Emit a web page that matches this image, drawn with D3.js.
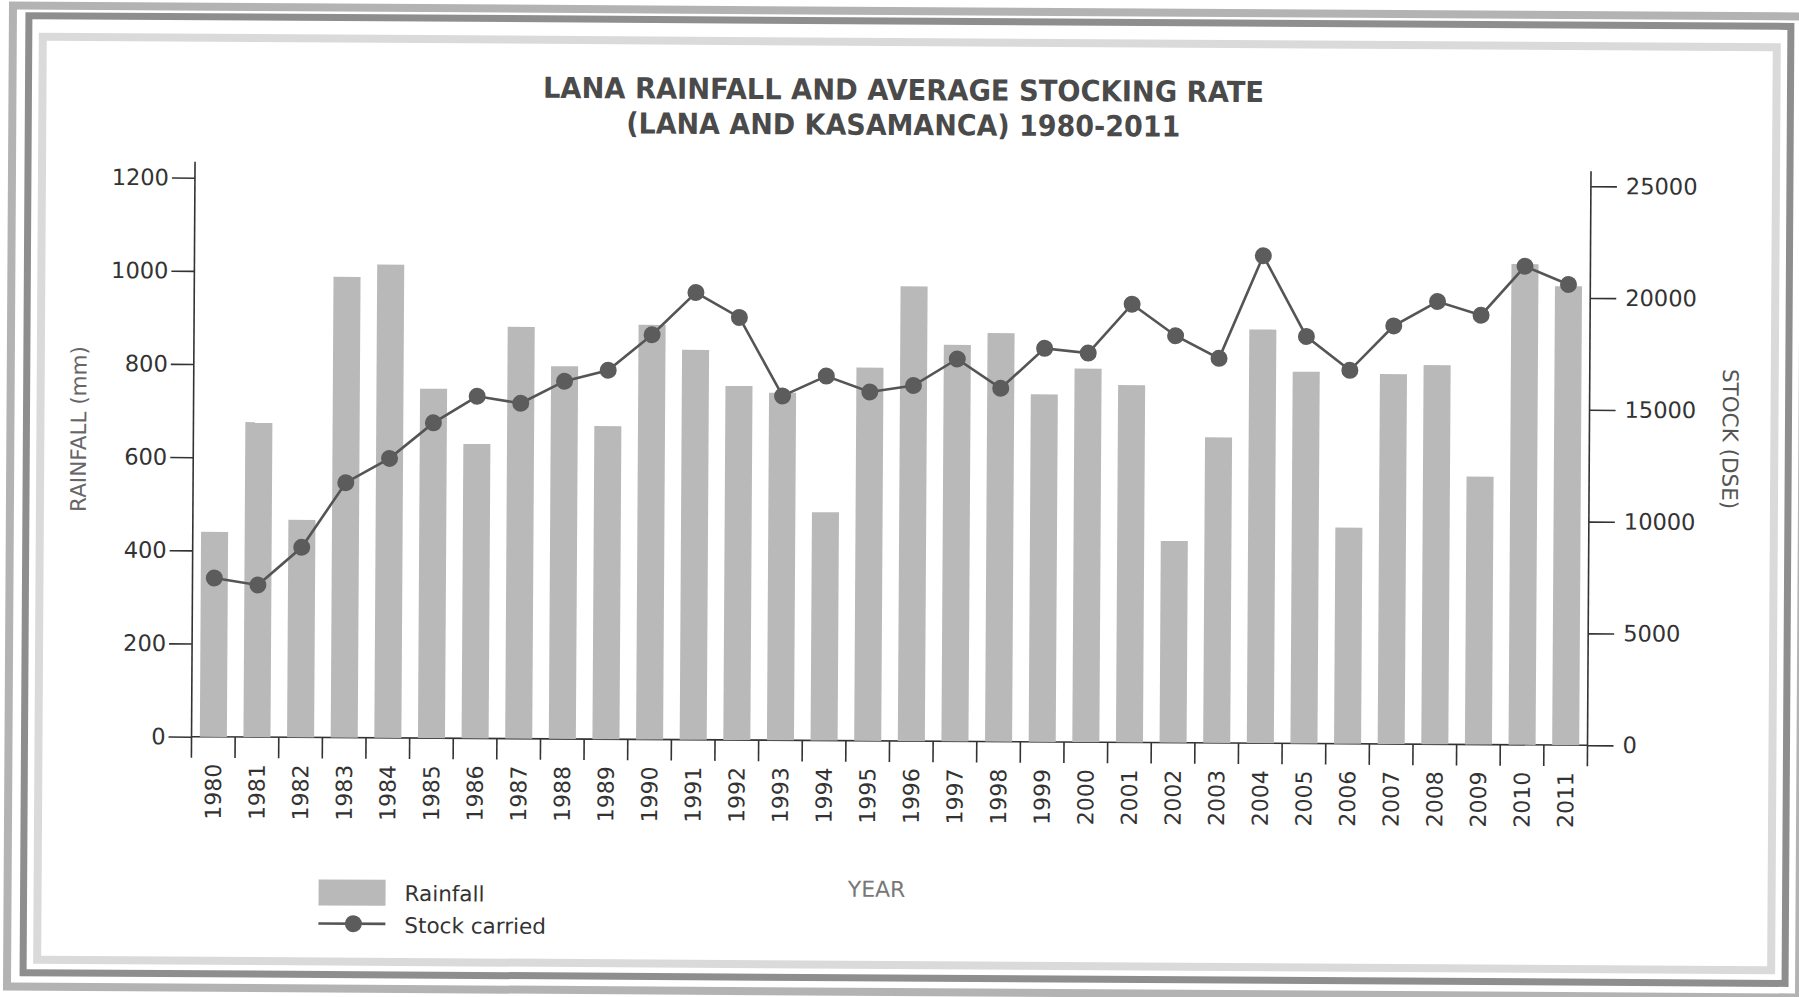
<!DOCTYPE html>
<html>
<head>
<meta charset="utf-8">
<script src="https://cdn.jsdelivr.net/npm/d3@7"></script>
<style>
  html, body { margin: 0; padding: 0; background: #fff; }
  svg { display: block; font-family: "DejaVu Sans", Verdana, sans-serif; }
</style>
</head>
<body>
<svg id="chart" width="1799" height="997"></svg>
<script>
// values
const years = d3.range(1980, 2012).map(String);
const rainfall = [440, 676, 467, 989, 1016, 750, 632, 884, 800, 672,
  890, 837, 760, 746, 490, 801, 976, 851, 877, 746,
  802, 767, 433, 656, 888, 798, 464, 794, 814, 575,
  1032, 985];
const stock = [7100, 6800, 8500, 11400, 12500, 14100, 15300, 15000, 16000, 16500,
  18100, 20000, 18900, 15400, 16300, 15600, 15900, 17100, 15800, 17600,
  17400, 19600, 18200, 17200, 21800, 18200, 16700, 18700, 19800, 19200,
  21400, 20600];
const rainTicks = [0, 200, 400, 600, 800, 1000, 1200];
const stockTicks = [0, 5000, 10000, 15000, 20000, 25000];
const titleLines = ["LANA RAINFALL AND AVERAGE STOCKING RATE", "(LANA AND KASAMANCA) 1980-2011"];

const svg = d3.select("#chart");
svg.append("rect").attr("width", 1799).attr("height", 997).attr("fill", "#fff");

// the scan is tilted a little, so everything sits in one rotated group
const root = svg.append("g").attr("transform", "rotate(0.35, 900, 498)");

// picture-frame border
root.append("rect").attr("x", 10).attr("y", 11).attr("width", 1792).attr("height", 981)
  .attr("fill", "none").attr("stroke", "#b3b3b3").attr("stroke-width", 8);
root.append("rect").attr("x", 26).attr("y", 21).attr("width", 1762).attr("height", 957)
  .attr("fill", "none").attr("stroke", "#8e8e8e").attr("stroke-width", 7);
root.append("rect").attr("x", 40).attr("y", 42).attr("width", 1734).attr("height", 923)
  .attr("fill", "none").attr("stroke", "#dadada").attr("stroke-width", 8);

const plotL = 193, plotR = 1589, plotT = 182, zeroY = 741;

const x = d3.scaleBand().domain(years).range([plotL, plotR]).paddingInner(0.38).paddingOuter(0.19);
const yRain = d3.scaleLinear().domain([0, 1200]).range([zeroY, plotT]);
const yStock = d3.scaleLinear().domain([0, 25000]).range([zeroY, plotT]);

// title
titleLines.forEach((t, i) => {
  root.append("text")
    .attr("x", 901).attr("y", i === 0 ? 100 : 135)
    .attr("text-anchor", "middle")
    .attr("font-size", 29).attr("font-weight", "bold")
    .attr("fill", "#4a4a4a")
    .attr("textLength", i === 0 ? 721 : 554)
    .attr("lengthAdjust", "spacingAndGlyphs")
    .text(t);
});

// x axis line + boundary ticks (drawn under the bars)
const axisCol = "#333";
root.append("line").attr("x1", plotL).attr("x2", plotR).attr("y1", zeroY).attr("y2", zeroY)
  .attr("stroke", axisCol).attr("stroke-width", 1.6);
const bounds = d3.range(1, years.length).map((k) => plotL + k * x.step());
root.append("g").selectAll("line").data(bounds).join("line")
  .attr("x1", (d) => d).attr("x2", (d) => d)
  .attr("y1", zeroY).attr("y2", zeroY + 21)
  .attr("stroke", axisCol).attr("stroke-width", 1.6);

// bars
root.append("g").selectAll("rect").data(years).join("rect")
  .attr("x", (d) => x(d))
  .attr("width", x.bandwidth())
  .attr("y", (d, i) => yRain(rainfall[i]))
  .attr("height", (d, i) => zeroY - yRain(rainfall[i]))
  .attr("fill", "#b9b9b9");

// left axis
const gl = root.append("g").attr("transform", `translate(${plotL},0)`)
  .call(d3.axisLeft(yRain).tickValues(rainTicks).tickSize(23).tickSizeOuter(0).tickPadding(3)
    .tickFormat(d3.format("d")));
gl.select(".domain").remove();
gl.selectAll(".tick line").attr("stroke", axisCol).attr("stroke-width", 1.6);
gl.selectAll(".tick text").attr("font-size", 22.5).attr("fill", "#333")
  .attr("font-family", "DejaVu Sans, sans-serif");
gl.append("line").attr("y1", 166).attr("y2", zeroY + 21).attr("stroke", axisCol).attr("stroke-width", 1.6);

// right axis
const gr = root.append("g").attr("transform", `translate(${plotR},0)`)
  .call(d3.axisRight(yStock).tickValues(stockTicks).tickSize(26).tickSizeOuter(0).tickPadding(9)
    .tickFormat(d3.format("d")));
gr.select(".domain").remove();
gr.selectAll(".tick line").attr("stroke", axisCol).attr("stroke-width", 1.6);
gr.selectAll(".tick text").attr("font-size", 22.5).attr("fill", "#333")
  .attr("font-family", "DejaVu Sans, sans-serif");
gr.append("line").attr("y1", 167).attr("y2", zeroY + 21).attr("stroke", axisCol).attr("stroke-width", 1.6);

// year labels
root.append("g").selectAll("text").data(years).join("text")
  .attr("transform", (d) => `translate(${x(d) + x.bandwidth() / 2},768) rotate(-90)`)
  .attr("text-anchor", "end").attr("dy", "0.36em")
  .attr("font-size", 22).attr("fill", "#333")
  .text((d) => d);

// stock line
const cx = (i) => x(years[i]) + x.bandwidth() / 2;
const line = d3.line().x((d, i) => cx(i)).y((d) => yStock(d));
root.append("path").datum(stock).attr("d", line)
  .attr("fill", "none").attr("stroke", "#555").attr("stroke-width", 2.6);
root.append("g").selectAll("circle").data(stock).join("circle")
  .attr("cx", (d, i) => cx(i)).attr("cy", (d) => yStock(d)).attr("r", 8.5)
  .attr("fill", "#5c5c5c");

// axis titles
root.append("text").attr("transform", "translate(78,434) rotate(-90)")
  .attr("text-anchor", "middle").attr("dy", "0.36em")
  .attr("font-size", 21.5).attr("fill", "#666").text("RAINFALL (mm)");
root.append("text").attr("transform", "translate(1730,434) rotate(90)")
  .attr("text-anchor", "middle").attr("dy", "0.36em")
  .attr("font-size", 21.5).attr("fill", "#555").text("STOCK (DSE)");
root.append("text").attr("x", 879).attr("y", 897).attr("text-anchor", "middle")
  .attr("font-size", 22).attr("fill", "#777").text("YEAR");

// legend
const lg = root.append("g");
lg.append("rect").attr("x", 321).attr("y", 883).attr("width", 67).attr("height", 26).attr("fill", "#b9b9b9");
lg.append("text").attr("x", 407).attr("y", 904).attr("font-size", 21.5).attr("fill", "#333").text("Rainfall");
lg.append("line").attr("x1", 321).attr("x2", 388).attr("y1", 927).attr("y2", 927)
  .attr("stroke", "#555").attr("stroke-width", 2.6);
lg.append("circle").attr("cx", 356).attr("cy", 927).attr("r", 8.5).attr("fill", "#5c5c5c");
lg.append("text").attr("x", 407).attr("y", 936).attr("font-size", 21.5).attr("fill", "#333").text("Stock carried");
</script>
</body>
</html>
